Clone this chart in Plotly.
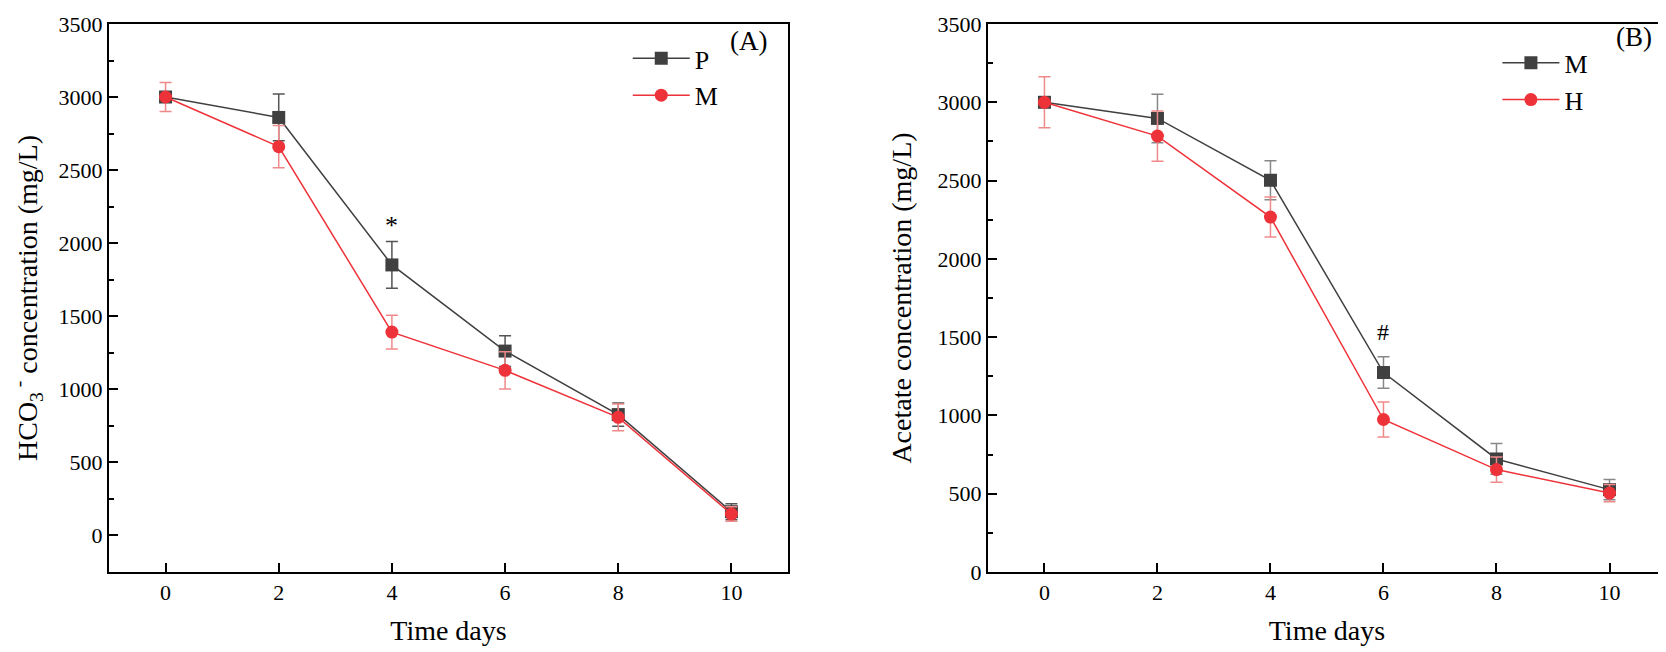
import plotly.graph_objects as go
from plotly.subplots import make_subplots

# Time points (days)
days = [0, 2, 4, 6, 8, 10]

# Panel A: HCO3- concentration (mg/L)
a_p = [3000, 2860, 1850, 1260, 825, 160]
a_p_err = [30, 160, 160, 105, 80, 55]
a_m = [3000, 2660, 1390, 1128, 806, 144]
a_m_err = [100, 145, 115, 128, 92, 50]

# Panel B: acetate concentration (mg/L)
b_m = [3000, 2897, 2502, 1274, 722, 526]
b_m_err = [30, 155, 125, 100, 98, 65]
b_h = [3000, 2784, 2267, 974, 654, 504]
b_h_err = [163, 160, 128, 112, 80, 55]

DARK = "#404040"
RED = "#ee3239"
FONT = "Liberation Serif"

fig = make_subplots(rows=1, cols=2)


def add_series(y, err, name, color, err_color, symbol, col, legend):
    fig.add_trace(
        go.Scatter(
            x=days, y=y, name=name, mode="lines+markers",
            line=dict(color=color, width=1.5),
            marker=dict(symbol=symbol, size=13, color=color),
            error_y=dict(type="data", array=err, color=err_color,
                         thickness=1.5, width=6),
            legend=legend,
        ),
        row=1, col=col,
    )


add_series(a_p, a_p_err, "P", DARK, "#555555", "square", 1, "legend")
add_series(a_m, a_m_err, "M", RED, "#f08a8a", "circle", 1, "legend")
add_series(b_m, b_m_err, "M", DARK, "#888888", "square", 2, "legend2")
add_series(b_h, b_h_err, "H", RED, "#f08a8a", "circle", 2, "legend2")

axis_common = dict(
    showline=True, linecolor="black", linewidth=2, mirror=True,
    ticks="inside", ticklen=9, tickwidth=2, tickcolor="black",
    showgrid=False, zeroline=False,
    tickfont=dict(family=FONT, size=22, color="black"),
)
title_font = dict(family=FONT, size=28, color="black")

fig.update_xaxes(
    **axis_common, range=[-1, 11], tickvals=days,
    title=dict(text="Time days", font=title_font, standoff=16),
)
fig.update_xaxes(domain=[0.0606, 0.4682], row=1, col=1)
fig.update_xaxes(domain=[0.5882, 0.9952], row=1, col=2)

fig.update_yaxes(**axis_common, dtick=500,
                 minor=dict(ticks="inside", ticklen=5, tickwidth=2, tickcolor="black", dtick=250))
fig.update_yaxes(
    range=[-253, 3500], tickvals=[0, 500, 1000, 1500, 2000, 2500, 3000, 3500],
    title=dict(text="HCO<sub>3</sub><sup> -</sup> concentration (mg/L)",
               font=title_font, standoff=14),
    row=1, col=1,
)
fig.update_yaxes(
    range=[0, 3500],
    title=dict(text="Acetate concentration (mg/L)", font=title_font, standoff=18),
    row=1, col=2,
)

legend_style = dict(
    font=dict(family=FONT, size=26, color="black"),
    bgcolor="rgba(0,0,0,0)", itemwidth=57, tracegroupgap=0,
    xanchor="left", yanchor="top",
)

fig.update_layout(
    width=1666, height=652,
    margin=dict(l=0, r=0, t=16, b=88),
    plot_bgcolor="white", paper_bgcolor="white",
    legend=dict(**legend_style, x=0.372, y=0.98),
    legend2=dict(**legend_style, x=0.894, y=0.972),
    annotations=[
        dict(text="(A)", xref="paper", yref="paper", x=0.457, y=1.0,
             xanchor="right", yanchor="top", showarrow=False,
             font=dict(family=FONT, size=27, color="black")),
        dict(text="(B)", xref="paper", yref="paper", x=0.9877, y=1.008,
             xanchor="right", yanchor="top", showarrow=False,
             font=dict(family=FONT, size=27, color="black")),
        dict(text="*", xref="x", yref="y", x=4, y=2010, yanchor="bottom",
             showarrow=False, font=dict(family=FONT, size=26, color="black")),
        dict(text="#", xref="x2", yref="y2", x=6, y=1440, yanchor="bottom",
             showarrow=False, font=dict(family=FONT, size=24, color="black")),
    ],
)

fig.write_html("out.html")
